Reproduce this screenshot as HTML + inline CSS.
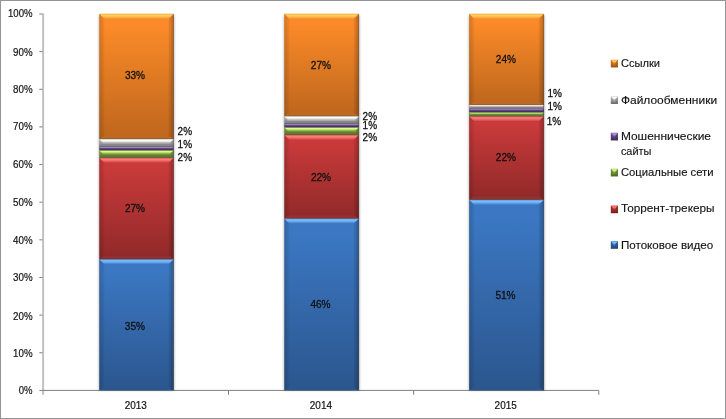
<!DOCTYPE html>
<html lang="ru"><head><meta charset="utf-8"><title>Chart</title>
<style>
html,body{margin:0;padding:0;background:#fff;}
body{width:726px;height:419px;overflow:hidden;font-family:"Liberation Sans",sans-serif;}
svg{display:block}
text{font-family:"Liberation Sans",sans-serif;fill:#111;stroke:#111;stroke-width:0.3px}
.ax{font-size:10.1px;stroke-width:0.18px}
.in{font-size:11.2px}
.lg{font-size:10.8px;stroke-width:0.12px}
</style></head><body>
<svg width="726" height="419" viewBox="0 0 726 419">
<defs>
<linearGradient id="g_blue" x1="0" y1="0" x2="0" y2="1"><stop offset="0" stop-color="#3b77c2"/><stop offset="0.1" stop-color="#3b77c2"/><stop offset="1" stop-color="#2b568d"/></linearGradient>
<linearGradient id="h_blue" x1="0" y1="0" x2="0" y2="1"><stop offset="0" stop-color="#7cbeff" stop-opacity="0.4"/><stop offset="0.3" stop-color="#7cbeff" stop-opacity="1"/><stop offset="0.55" stop-color="#7cbeff" stop-opacity="0.75"/><stop offset="1" stop-color="#7cbeff" stop-opacity="0"/></linearGradient>
<linearGradient id="g_red" x1="0" y1="0" x2="0" y2="1"><stop offset="0" stop-color="#c93a3a"/><stop offset="0.1" stop-color="#c93a3a"/><stop offset="1" stop-color="#902929"/></linearGradient>
<linearGradient id="h_red" x1="0" y1="0" x2="0" y2="1"><stop offset="0" stop-color="#ff7c7c" stop-opacity="0.4"/><stop offset="0.3" stop-color="#ff7c7c" stop-opacity="1"/><stop offset="0.55" stop-color="#ff7c7c" stop-opacity="0.75"/><stop offset="1" stop-color="#ff7c7c" stop-opacity="0"/></linearGradient>
<linearGradient id="g_green" x1="0" y1="0" x2="0" y2="1"><stop offset="0" stop-color="#8fb347"/><stop offset="0.1" stop-color="#8fb347"/><stop offset="1" stop-color="#647f30"/></linearGradient>
<linearGradient id="h_green" x1="0" y1="0" x2="0" y2="1"><stop offset="0" stop-color="#dcff8c" stop-opacity="0.4"/><stop offset="0.3" stop-color="#dcff8c" stop-opacity="1"/><stop offset="0.55" stop-color="#dcff8c" stop-opacity="0.75"/><stop offset="1" stop-color="#dcff8c" stop-opacity="0"/></linearGradient>
<linearGradient id="g_purple" x1="0" y1="0" x2="0" y2="1"><stop offset="0" stop-color="#7f5ea8"/><stop offset="0.1" stop-color="#7f5ea8"/><stop offset="1" stop-color="#493467"/></linearGradient>
<linearGradient id="h_purple" x1="0" y1="0" x2="0" y2="1"><stop offset="0" stop-color="#b494dc" stop-opacity="0.4"/><stop offset="0.3" stop-color="#b494dc" stop-opacity="1"/><stop offset="0.55" stop-color="#b494dc" stop-opacity="0.75"/><stop offset="1" stop-color="#b494dc" stop-opacity="0"/></linearGradient>
<linearGradient id="g_gray" x1="0" y1="0" x2="0" y2="1"><stop offset="0" stop-color="#cfcfcf"/><stop offset="0.1" stop-color="#cfcfcf"/><stop offset="1" stop-color="#858585"/></linearGradient>
<linearGradient id="h_gray" x1="0" y1="0" x2="0" y2="1"><stop offset="0" stop-color="#ffffff" stop-opacity="0.4"/><stop offset="0.3" stop-color="#ffffff" stop-opacity="1"/><stop offset="0.55" stop-color="#ffffff" stop-opacity="0.75"/><stop offset="1" stop-color="#ffffff" stop-opacity="0"/></linearGradient>
<linearGradient id="g_orange" x1="0" y1="0" x2="0" y2="1"><stop offset="0" stop-color="#fb8a28"/><stop offset="0.1" stop-color="#fb8a28"/><stop offset="1" stop-color="#bd661d"/></linearGradient>
<linearGradient id="h_orange" x1="0" y1="0" x2="0" y2="1"><stop offset="0" stop-color="#ffd060" stop-opacity="0.4"/><stop offset="0.3" stop-color="#ffd060" stop-opacity="1"/><stop offset="0.55" stop-color="#ffd060" stop-opacity="0.75"/><stop offset="1" stop-color="#ffd060" stop-opacity="0"/></linearGradient>
<filter id="blur" x="-10%" y="-2%" width="120%" height="104%"><feGaussianBlur stdDeviation="0.9"/></filter>
<linearGradient id="bl" x1="0" y1="0" x2="1" y2="0"><stop offset="0" stop-color="#000" stop-opacity="0.16"/><stop offset="1" stop-color="#000" stop-opacity="0.03"/></linearGradient>
<linearGradient id="br" x1="0" y1="0" x2="1" y2="0"><stop offset="0" stop-color="#000" stop-opacity="0.04"/><stop offset="1" stop-color="#000" stop-opacity="0.26"/></linearGradient>
<filter id="soft" x="0" y="0" width="100%" height="100%" filterUnits="userSpaceOnUse" color-interpolation-filters="sRGB"><feGaussianBlur stdDeviation="0.32"/></filter>
</defs>
<rect x="0" y="0" width="726" height="419" fill="#fff"/>
<rect x="0.5" y="0.5" width="725" height="418" fill="none" stroke="#949494" stroke-width="1"/>
<g filter="url(#soft)">
<g stroke="#808080" stroke-width="1" fill="none">
<rect x="42.1" y="13.5" width="2" height="381.3" fill="#c1c1c1" stroke="none"/>
<path d="M39.4 390.4H598.8"/>
<path d="M39.3 352.76H42.6"/>
<path d="M39.3 315.12H42.6"/>
<path d="M39.3 277.48H42.6"/>
<path d="M39.3 239.84H42.6"/>
<path d="M39.3 202.20H42.6"/>
<path d="M39.3 164.56H42.6"/>
<path d="M39.3 126.92H42.6"/>
<path d="M39.3 89.28H42.6"/>
<path d="M39.3 51.64H42.6"/>
<path d="M39.3 14.00H42.6"/>
<path d="M228.5 390.4V394.8"/>
<path d="M413.6 390.4V394.8"/>
<path d="M598.8 390.4V394.8"/>
</g>
<text class="ax" x="18.8" y="394.3" textLength="13.8" lengthAdjust="spacingAndGlyphs">0%</text>
<text class="ax" x="13.1" y="356.7" textLength="19.5" lengthAdjust="spacingAndGlyphs">10%</text>
<text class="ax" x="13.1" y="319.5" textLength="19.5" lengthAdjust="spacingAndGlyphs">20%</text>
<text class="ax" x="13.1" y="280.8" textLength="19.5" lengthAdjust="spacingAndGlyphs">30%</text>
<text class="ax" x="13.1" y="243.5" textLength="19.5" lengthAdjust="spacingAndGlyphs">40%</text>
<text class="ax" x="13.1" y="205.8" textLength="19.5" lengthAdjust="spacingAndGlyphs">50%</text>
<text class="ax" x="13.1" y="168.1" textLength="19.5" lengthAdjust="spacingAndGlyphs">60%</text>
<text class="ax" x="13.1" y="129.9" textLength="19.5" lengthAdjust="spacingAndGlyphs">70%</text>
<text class="ax" x="13.1" y="92.8" textLength="19.5" lengthAdjust="spacingAndGlyphs">80%</text>
<text class="ax" x="13.1" y="55.5" textLength="19.5" lengthAdjust="spacingAndGlyphs">90%</text>
<text class="ax" x="8.0" y="16.8" textLength="24.6" lengthAdjust="spacingAndGlyphs">100%</text>
<text class="ax" x="124.7" y="409" textLength="22.2" lengthAdjust="spacingAndGlyphs">2013</text>
<text class="ax" x="309.8" y="409" textLength="22.2" lengthAdjust="spacingAndGlyphs">2014</text>
<text class="ax" x="494.6" y="409" textLength="22.2" lengthAdjust="spacingAndGlyphs">2015</text>
<rect x="98.7" y="15.6" width="75.7" height="374.8" fill="#000" opacity="0.28" filter="url(#blur)"/>
<rect x="99.3" y="259.15" width="74.3" height="131.25" fill="url(#g_blue)"/>
<polygon points="99.3,259.15 104.5,264.35 104.5,387.40 99.3,390.40" fill="url(#bl)"/>
<polygon points="173.6,259.15 168.4,264.35 168.4,387.40 173.6,390.40" fill="url(#br)"/>
<polygon points="99.3,259.15 173.6,259.15 168.4,264.35 104.5,264.35" fill="url(#h_blue)" opacity="1.00"/>
<text class="in" x="124.8" y="329.5" textLength="20.2" lengthAdjust="spacingAndGlyphs">35%</text>
<rect x="99.3" y="157.75" width="74.3" height="101.40" fill="url(#g_red)"/>
<polygon points="99.3,259.15 173.6,259.15 170.6,256.15 102.3,256.15" fill="#a09090" opacity="0.09"/>
<polygon points="99.3,157.75 104.5,162.95 104.5,256.15 99.3,259.15" fill="url(#bl)"/>
<polygon points="173.6,157.75 168.4,162.95 168.4,256.15 173.6,259.15" fill="url(#br)"/>
<polygon points="99.3,157.75 173.6,157.75 168.4,162.95 104.5,162.95" fill="url(#h_red)" opacity="1.00"/>
<rect x="99.3" y="258.65" width="74.3" height="0.7" fill="#000" opacity="0.22"/>
<text class="in" x="124.9" y="211.6" textLength="20.2" lengthAdjust="spacingAndGlyphs">27%</text>
<rect x="99.3" y="150.25" width="74.3" height="7.50" fill="url(#g_green)"/>
<polygon points="99.3,157.75 173.6,157.75 170.6,154.75 102.3,154.75" fill="#000" opacity="0.12"/>
<polygon points="99.3,150.25 103.0,154.00 103.0,154.75 99.3,157.75" fill="url(#bl)"/>
<polygon points="173.6,150.25 169.8,154.00 169.8,154.75 173.6,157.75" fill="url(#br)"/>
<polygon points="99.3,150.25 173.6,150.25 169.8,154.00 103.0,154.00" fill="url(#h_green)" opacity="0.98"/>
<rect x="99.3" y="157.25" width="74.3" height="0.7" fill="#000" opacity="0.22"/>
<rect x="99.3" y="146.85" width="74.3" height="3.40" fill="url(#g_purple)"/>
<polygon points="99.3,150.25 173.6,150.25 171.9,148.55 101.0,148.55" fill="#000" opacity="0.12"/>
<polygon points="99.3,146.85 101.0,148.55 101.0,148.55 99.3,150.25" fill="url(#bl)"/>
<polygon points="173.6,146.85 171.9,148.55 171.9,148.55 173.6,150.25" fill="url(#br)"/>
<polygon points="99.3,146.85 173.6,146.85 171.9,148.55 101.0,148.55" fill="url(#h_purple)" opacity="0.72"/>
<rect x="99.3" y="149.75" width="74.3" height="0.7" fill="#000" opacity="0.22"/>
<rect x="99.3" y="139.05" width="74.3" height="7.80" fill="url(#g_gray)"/>
<polygon points="99.3,146.85 173.6,146.85 170.6,143.85 102.3,143.85" fill="#000" opacity="0.12"/>
<polygon points="99.3,139.05 103.2,142.95 103.2,143.85 99.3,146.85" fill="url(#bl)"/>
<polygon points="173.6,139.05 169.7,142.95 169.7,143.85 173.6,146.85" fill="url(#br)"/>
<polygon points="99.3,139.05 173.6,139.05 169.7,142.95 103.2,142.95" fill="url(#h_gray)" opacity="1.00"/>
<rect x="99.3" y="146.35" width="74.3" height="0.7" fill="#000" opacity="0.22"/>
<rect x="99.3" y="13.80" width="74.3" height="125.25" fill="url(#g_orange)"/>
<polygon points="99.3,139.05 173.6,139.05 170.6,136.05 102.3,136.05" fill="#a09090" opacity="0.09"/>
<polygon points="99.3,13.80 104.5,19.00 104.5,136.05 99.3,139.05" fill="url(#bl)"/>
<polygon points="173.6,13.80 168.4,19.00 168.4,136.05 173.6,139.05" fill="url(#br)"/>
<polygon points="99.3,13.80 173.6,13.80 168.4,19.00 104.5,19.00" fill="url(#h_orange)" opacity="1.00"/>
<rect x="99.3" y="138.55" width="74.3" height="0.7" fill="#000" opacity="0.22"/>
<text class="in" x="124.9" y="79.2" textLength="20.2" lengthAdjust="spacingAndGlyphs">33%</text>
<rect x="283.7" y="15.6" width="75.9" height="374.8" fill="#000" opacity="0.28" filter="url(#blur)"/>
<rect x="284.3" y="218.45" width="74.5" height="171.95" fill="url(#g_blue)"/>
<polygon points="284.3,218.45 289.5,223.65 289.5,387.40 284.3,390.40" fill="url(#bl)"/>
<polygon points="358.8,218.45 353.6,223.65 353.6,387.40 358.8,390.40" fill="url(#br)"/>
<polygon points="284.3,218.45 358.8,218.45 353.6,223.65 289.5,223.65" fill="url(#h_blue)" opacity="1.00"/>
<text class="in" x="310.4" y="307.9" textLength="20.2" lengthAdjust="spacingAndGlyphs">46%</text>
<rect x="284.3" y="134.85" width="74.5" height="83.60" fill="url(#g_red)"/>
<polygon points="284.3,218.45 358.8,218.45 355.8,215.45 287.3,215.45" fill="#a09090" opacity="0.09"/>
<polygon points="284.3,134.85 289.5,140.05 289.5,215.45 284.3,218.45" fill="url(#bl)"/>
<polygon points="358.8,134.85 353.6,140.05 353.6,215.45 358.8,218.45" fill="url(#br)"/>
<polygon points="284.3,134.85 358.8,134.85 353.6,140.05 289.5,140.05" fill="url(#h_red)" opacity="1.00"/>
<rect x="284.3" y="217.95" width="74.5" height="0.7" fill="#000" opacity="0.22"/>
<text class="in" x="310.9" y="180.7" textLength="20.2" lengthAdjust="spacingAndGlyphs">22%</text>
<rect x="284.3" y="127.30" width="74.5" height="7.55" fill="url(#g_green)"/>
<polygon points="284.3,134.85 358.8,134.85 355.8,131.85 287.3,131.85" fill="#000" opacity="0.12"/>
<polygon points="284.3,127.30 288.1,131.07 288.1,131.85 284.3,134.85" fill="url(#bl)"/>
<polygon points="358.8,127.30 355.0,131.07 355.0,131.85 358.8,134.85" fill="url(#br)"/>
<polygon points="284.3,127.30 358.8,127.30 355.0,131.07 288.1,131.07" fill="url(#h_green)" opacity="0.98"/>
<rect x="284.3" y="134.35" width="74.5" height="0.7" fill="#000" opacity="0.22"/>
<rect x="284.3" y="123.95" width="74.5" height="3.35" fill="url(#g_purple)"/>
<polygon points="284.3,127.30 358.8,127.30 357.1,125.62 286.0,125.62" fill="#000" opacity="0.12"/>
<polygon points="284.3,123.95 286.0,125.62 286.0,125.62 284.3,127.30" fill="url(#bl)"/>
<polygon points="358.8,123.95 357.1,125.62 357.1,125.62 358.8,127.30" fill="url(#br)"/>
<polygon points="284.3,123.95 358.8,123.95 357.1,125.62 286.0,125.62" fill="url(#h_purple)" opacity="0.71"/>
<rect x="284.3" y="126.80" width="74.5" height="0.7" fill="#000" opacity="0.22"/>
<rect x="284.3" y="116.15" width="74.5" height="7.80" fill="url(#g_gray)"/>
<polygon points="284.3,123.95 358.8,123.95 355.8,120.95 287.3,120.95" fill="#000" opacity="0.12"/>
<polygon points="284.3,116.15 288.2,120.05 288.2,120.95 284.3,123.95" fill="url(#bl)"/>
<polygon points="358.8,116.15 354.9,120.05 354.9,120.95 358.8,123.95" fill="url(#br)"/>
<polygon points="284.3,116.15 358.8,116.15 354.9,120.05 288.2,120.05" fill="url(#h_gray)" opacity="1.00"/>
<rect x="284.3" y="123.45" width="74.5" height="0.7" fill="#000" opacity="0.22"/>
<rect x="284.3" y="13.80" width="74.5" height="102.35" fill="url(#g_orange)"/>
<polygon points="284.3,116.15 358.8,116.15 355.8,113.15 287.3,113.15" fill="#a09090" opacity="0.09"/>
<polygon points="284.3,13.80 289.5,19.00 289.5,113.15 284.3,116.15" fill="url(#bl)"/>
<polygon points="358.8,13.80 353.6,19.00 353.6,113.15 358.8,116.15" fill="url(#br)"/>
<polygon points="284.3,13.80 358.8,13.80 353.6,19.00 289.5,19.00" fill="url(#h_orange)" opacity="1.00"/>
<rect x="284.3" y="115.65" width="74.5" height="0.7" fill="#000" opacity="0.22"/>
<text class="in" x="310.8" y="68.7" textLength="20.2" lengthAdjust="spacingAndGlyphs">27%</text>
<rect x="468.6" y="15.6" width="76.0" height="374.8" fill="#000" opacity="0.28" filter="url(#blur)"/>
<rect x="469.2" y="199.75" width="74.6" height="190.65" fill="url(#g_blue)"/>
<polygon points="469.2,199.75 474.4,204.95 474.4,387.40 469.2,390.40" fill="url(#bl)"/>
<polygon points="543.8,199.75 538.6,204.95 538.6,387.40 543.8,390.40" fill="url(#br)"/>
<polygon points="469.2,199.75 543.8,199.75 538.6,204.95 474.4,204.95" fill="url(#h_blue)" opacity="1.00"/>
<text class="in" x="495.4" y="298.6" textLength="20.2" lengthAdjust="spacingAndGlyphs">51%</text>
<rect x="469.2" y="116.30" width="74.6" height="83.45" fill="url(#g_red)"/>
<polygon points="469.2,199.75 543.8,199.75 540.8,196.75 472.2,196.75" fill="#a09090" opacity="0.09"/>
<polygon points="469.2,116.30 474.4,121.50 474.4,196.75 469.2,199.75" fill="url(#bl)"/>
<polygon points="543.8,116.30 538.6,121.50 538.6,196.75 543.8,199.75" fill="url(#br)"/>
<polygon points="469.2,116.30 543.8,116.30 538.6,121.50 474.4,121.50" fill="url(#h_red)" opacity="1.00"/>
<rect x="469.2" y="199.25" width="74.6" height="0.7" fill="#000" opacity="0.22"/>
<text class="in" x="495.8" y="160.6" textLength="20.2" lengthAdjust="spacingAndGlyphs">22%</text>
<rect x="469.2" y="112.25" width="74.6" height="4.05" fill="url(#g_green)"/>
<polygon points="469.2,116.30 543.8,116.30 541.8,114.28 471.2,114.28" fill="#000" opacity="0.12"/>
<polygon points="469.2,112.25 471.2,114.28 471.2,114.28 469.2,116.30" fill="url(#bl)"/>
<polygon points="543.8,112.25 541.8,114.28 541.8,114.28 543.8,116.30" fill="url(#br)"/>
<polygon points="469.2,112.25 543.8,112.25 541.8,114.28 471.2,114.28" fill="url(#h_green)" opacity="0.76"/>
<rect x="469.2" y="115.80" width="74.6" height="0.7" fill="#000" opacity="0.22"/>
<rect x="469.2" y="108.45" width="74.6" height="3.80" fill="url(#g_purple)"/>
<polygon points="469.2,112.25 543.8,112.25 541.9,110.35 471.1,110.35" fill="#000" opacity="0.12"/>
<polygon points="469.2,108.45 471.1,110.35 471.1,110.35 469.2,112.25" fill="url(#bl)"/>
<polygon points="543.8,108.45 541.9,110.35 541.9,110.35 543.8,112.25" fill="url(#br)"/>
<polygon points="469.2,108.45 543.8,108.45 541.9,110.35 471.1,110.35" fill="url(#h_purple)" opacity="0.74"/>
<rect x="469.2" y="111.75" width="74.6" height="0.7" fill="#000" opacity="0.22"/>
<rect x="469.2" y="104.95" width="74.6" height="3.50" fill="url(#g_gray)"/>
<polygon points="469.2,108.45 543.8,108.45 542.0,106.70 470.9,106.70" fill="#000" opacity="0.12"/>
<polygon points="469.2,104.95 470.9,106.70 470.9,106.70 469.2,108.45" fill="url(#bl)"/>
<polygon points="543.8,104.95 542.0,106.70 542.0,106.70 543.8,108.45" fill="url(#br)"/>
<polygon points="469.2,104.95 543.8,104.95 542.0,106.70 470.9,106.70" fill="url(#h_gray)" opacity="0.72"/>
<rect x="469.2" y="107.95" width="74.6" height="0.7" fill="#000" opacity="0.22"/>
<rect x="469.2" y="13.80" width="74.6" height="91.15" fill="url(#g_orange)"/>
<polygon points="469.2,104.95 543.8,104.95 540.8,101.95 472.2,101.95" fill="#a09090" opacity="0.09"/>
<polygon points="469.2,13.80 474.4,19.00 474.4,101.95 469.2,104.95" fill="url(#bl)"/>
<polygon points="543.8,13.80 538.6,19.00 538.6,101.95 543.8,104.95" fill="url(#br)"/>
<polygon points="469.2,13.80 543.8,13.80 538.6,19.00 474.4,19.00" fill="url(#h_orange)" opacity="1.00"/>
<rect x="469.2" y="104.45" width="74.6" height="0.7" fill="#000" opacity="0.22"/>
<text class="in" x="495.8" y="62.7" textLength="20.2" lengthAdjust="spacingAndGlyphs">24%</text>
<rect x="173.1" y="14.3" width="0.9" height="376.1" fill="#000" opacity="0.28"/>
<rect x="358.3" y="14.3" width="0.9" height="376.1" fill="#000" opacity="0.28"/>
<rect x="543.3" y="14.3" width="0.9" height="376.1" fill="#000" opacity="0.28"/>
<text class="in" x="177.6" y="134.5" textLength="14.4" lengthAdjust="spacingAndGlyphs">2%</text>
<text class="in" x="177.6" y="147.8" textLength="14.4" lengthAdjust="spacingAndGlyphs">1%</text>
<text class="in" x="177.6" y="160.7" textLength="14.4" lengthAdjust="spacingAndGlyphs">2%</text>
<text class="in" x="362.6" y="119.5" textLength="14.4" lengthAdjust="spacingAndGlyphs">2%</text>
<text class="in" x="362.6" y="128.9" textLength="14.4" lengthAdjust="spacingAndGlyphs">1%</text>
<text class="in" x="362.6" y="141.0" textLength="14.4" lengthAdjust="spacingAndGlyphs">2%</text>
<text class="in" x="547.4" y="97.4" textLength="14.4" lengthAdjust="spacingAndGlyphs">1%</text>
<text class="in" x="547.4" y="110.1" textLength="14.4" lengthAdjust="spacingAndGlyphs">1%</text>
<text class="in" x="546.8" y="124.7" textLength="14.4" lengthAdjust="spacingAndGlyphs">1%</text>
<rect x="610.8" y="59.8" width="7.2" height="7.6" fill="url(#g_orange)"/>
<rect x="610.8" y="59.8" width="7.2" height="7.6" fill="#000" opacity="0.04"/>
<polygon points="610.8,59.8 613.4,62.4 613.4,65.4 610.8,67.4" fill="#000" opacity="0.10"/>
<polygon points="618.0,59.8 615.4,62.4 615.4,65.4 618.0,67.4" fill="#000" opacity="0.14"/>
<polygon points="610.8,67.4 618.0,67.4 616.0,65.4 612.8,65.4" fill="#000" opacity="0.14"/>
<polygon points="611.1,59.8 617.7,59.8 614.4,64.0" fill="url(#h_orange)"/>
<text class="lg" x="620.9" y="67.3" textLength="39.2" lengthAdjust="spacingAndGlyphs">Ссылки</text>
<rect x="610.8" y="96.4" width="7.2" height="7.6" fill="url(#g_gray)"/>
<rect x="610.8" y="96.4" width="7.2" height="7.6" fill="#000" opacity="0.04"/>
<polygon points="610.8,96.4 613.4,99.0 613.4,102.0 610.8,104.0" fill="#000" opacity="0.10"/>
<polygon points="618.0,96.4 615.4,99.0 615.4,102.0 618.0,104.0" fill="#000" opacity="0.14"/>
<polygon points="610.8,104.0 618.0,104.0 616.0,102.0 612.8,102.0" fill="#000" opacity="0.14"/>
<polygon points="611.1,96.4 617.7,96.4 614.4,100.6" fill="url(#h_gray)"/>
<text class="lg" x="620.9" y="103.6" textLength="96.2" lengthAdjust="spacingAndGlyphs">Файлообменники</text>
<rect x="610.8" y="132.8" width="7.2" height="7.6" fill="url(#g_purple)"/>
<rect x="610.8" y="132.8" width="7.2" height="7.6" fill="#000" opacity="0.04"/>
<polygon points="610.8,132.8 613.4,135.4 613.4,138.4 610.8,140.4" fill="#000" opacity="0.10"/>
<polygon points="618.0,132.8 615.4,135.4 615.4,138.4 618.0,140.4" fill="#000" opacity="0.14"/>
<polygon points="610.8,140.4 618.0,140.4 616.0,138.4 612.8,138.4" fill="#000" opacity="0.14"/>
<polygon points="611.1,132.8 617.7,132.8 614.4,137.0" fill="url(#h_purple)"/>
<text class="lg" x="620.9" y="139.8" textLength="90.1" lengthAdjust="spacingAndGlyphs">Мошеннические</text>
<text class="lg" x="620.9" y="154.6" textLength="30.5" lengthAdjust="spacingAndGlyphs">сайты</text>
<rect x="610.8" y="168.8" width="7.2" height="7.6" fill="url(#g_green)"/>
<rect x="610.8" y="168.8" width="7.2" height="7.6" fill="#000" opacity="0.04"/>
<polygon points="610.8,168.8 613.4,171.4 613.4,174.4 610.8,176.4" fill="#000" opacity="0.10"/>
<polygon points="618.0,168.8 615.4,171.4 615.4,174.4 618.0,176.4" fill="#000" opacity="0.14"/>
<polygon points="610.8,176.4 618.0,176.4 616.0,174.4 612.8,174.4" fill="#000" opacity="0.14"/>
<polygon points="611.1,168.8 617.7,168.8 614.4,173.0" fill="url(#h_green)"/>
<text class="lg" x="620.9" y="176.1" textLength="92.7" lengthAdjust="spacingAndGlyphs">Социальные сети</text>
<rect x="610.8" y="205.6" width="7.2" height="7.6" fill="url(#g_red)"/>
<rect x="610.8" y="205.6" width="7.2" height="7.6" fill="#000" opacity="0.04"/>
<polygon points="610.8,205.6 613.4,208.2 613.4,211.2 610.8,213.2" fill="#000" opacity="0.10"/>
<polygon points="618.0,205.6 615.4,208.2 615.4,211.2 618.0,213.2" fill="#000" opacity="0.14"/>
<polygon points="610.8,213.2 618.0,213.2 616.0,211.2 612.8,211.2" fill="#000" opacity="0.14"/>
<polygon points="611.1,205.6 617.7,205.6 614.4,209.8" fill="url(#h_red)"/>
<text class="lg" x="620.9" y="211.7" textLength="93.6" lengthAdjust="spacingAndGlyphs">Торрент-трекеры</text>
<rect x="610.8" y="241.2" width="7.2" height="7.6" fill="url(#g_blue)"/>
<rect x="610.8" y="241.2" width="7.2" height="7.6" fill="#000" opacity="0.04"/>
<polygon points="610.8,241.2 613.4,243.8 613.4,246.8 610.8,248.8" fill="#000" opacity="0.10"/>
<polygon points="618.0,241.2 615.4,243.8 615.4,246.8 618.0,248.8" fill="#000" opacity="0.14"/>
<polygon points="610.8,248.8 618.0,248.8 616.0,246.8 612.8,246.8" fill="#000" opacity="0.14"/>
<polygon points="611.1,241.2 617.7,241.2 614.4,245.4" fill="url(#h_blue)"/>
<text class="lg" x="620.9" y="248.6" textLength="92.4" lengthAdjust="spacingAndGlyphs">Потоковое видео</text>
</g>
</svg></body></html>
